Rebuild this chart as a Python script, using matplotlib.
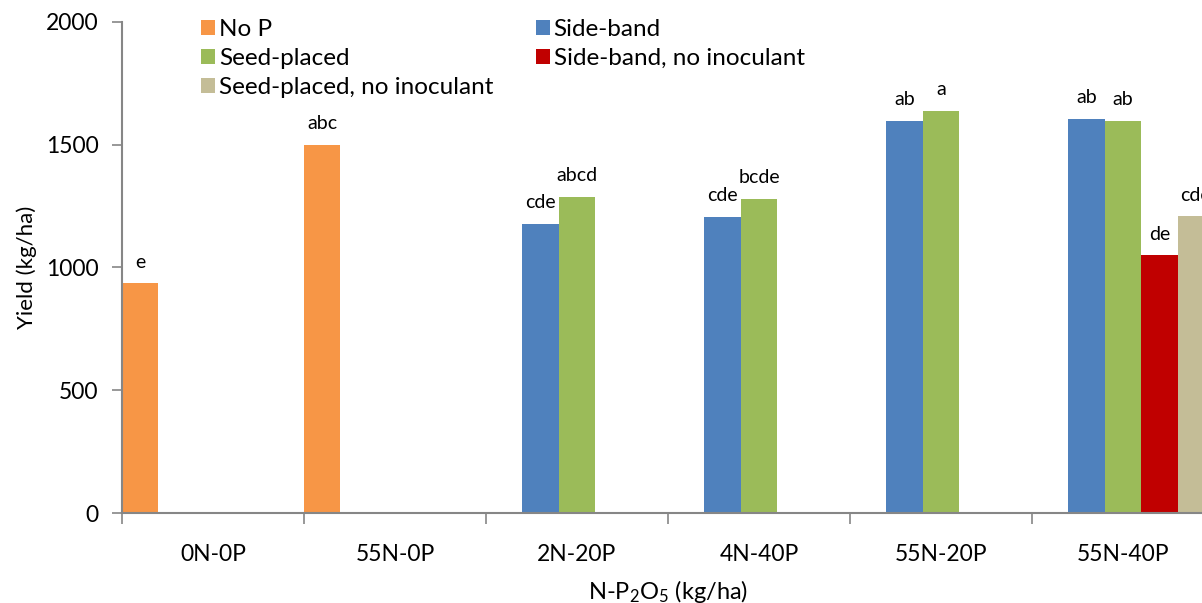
import numpy as np
import matplotlib.pyplot as plt

plt.rcParams['font.family'] = ['Lato', 'DejaVu Sans']
plt.rcParams['mathtext.default'] = 'regular'

# yield by N-P2O5 rate and placement
categories = ['0N-0P', '55N-0P', '2N-20P', '4N-40P', '55N-20P', '55N-40P']
series = ['No P', 'Side-band', 'Seed-placed',
          'Side-band, no inoculant', 'Seed-placed, no inoculant']
colors = ['#F79646', '#4F81BD', '#9BBB59', '#C00000', '#C4BD97']

nan = np.nan
no_p = [935, 1500, nan, nan, nan, nan]
side_band = [nan, nan, 1177, 1207, 1597, 1604]
seed_placed = [nan, nan, 1288, 1280, 1638, 1597]
side_band_noinoc = [nan, nan, nan, nan, nan, 1050]
seed_placed_noinoc = [nan, nan, nan, nan, nan, 1209]

# mean separation letters
letters_no_p = ['e', 'abc', '', '', '', '']
letters_side = ['', '', 'cde', 'cde', 'ab', 'ab']
letters_seed = ['', '', 'abcd', 'bcde', 'a', 'ab']
letters_side_ni = ['', '', '', '', '', 'de']
letters_seed_ni = ['', '', '', '', '', 'cde']

values = [no_p, side_band, seed_placed, side_band_noinoc, seed_placed_noinoc]
letters = [letters_no_p, letters_side, letters_seed, letters_side_ni, letters_seed_ni]

fig = plt.figure(figsize=(12.02, 6.03), dpi=100)
ax = fig.add_axes([122 / 1202, 90 / 603, 1092 / 1202, 491.3 / 603])

x = np.arange(len(categories))
w = 0.2
handles = []
for j, (vals, labs) in enumerate(zip(values, letters)):
    bars = ax.bar(x + j * w, vals, width=w, align='edge', color=colors[j],
                  label=series[j], linewidth=0)
    handles.append(bars)
    for i, (v, t) in enumerate(zip(vals, labs)):
        if t and not np.isnan(v):
            ax.annotate(t, (x[i] + (j + 0.5) * w, v), xytext=(0, 9),
                        textcoords='offset points', ha='center', va='bottom',
                        fontsize=14)

ax.set_xlim(0, 6)
ax.set_ylim(0, 2000)
ax.set_yticks([0, 500, 1000, 1500, 2000])
ax.set_xticks(np.arange(0, 7))
ax.set_xticklabels([])
ax.set_xticks(x + 0.5, minor=True)
ax.set_xticklabels(categories, minor=True)
ax.tick_params(axis='x', which='major', length=8, width=1.2, color='#868686')
ax.tick_params(axis='x', which='minor', length=0, pad=22, labelsize=16.5)
ax.tick_params(axis='y', length=7, width=1.2, color='#868686', labelsize=16.5, pad=10)

for s in ['top', 'right']:
    ax.spines[s].set_visible(False)
for s in ['left', 'bottom']:
    ax.spines[s].set_color('#868686')
    ax.spines[s].set_linewidth(1.5)

ax.set_ylabel('Yield (kg/ha)', fontsize=16, labelpad=6)
ax.set_xlabel('N-P$_2$O$_5$ (kg/ha)', fontsize=17, labelpad=10)

order = [0, 2, 4, 1, 3]
ax.legend([handles[k] for k in order], [series[k] for k in order], ncol=2,
          loc='upper left', bbox_to_anchor=(189 / 1202, 1 - 7 / 603),
          bbox_transform=fig.transFigure, frameon=False, fontsize=17.5,
          handlelength=0.58, handleheight=0.58, handletextpad=0.15,
          labelspacing=0.33, columnspacing=1.75, borderpad=0)

fig.savefig('out.png', dpi=100)
